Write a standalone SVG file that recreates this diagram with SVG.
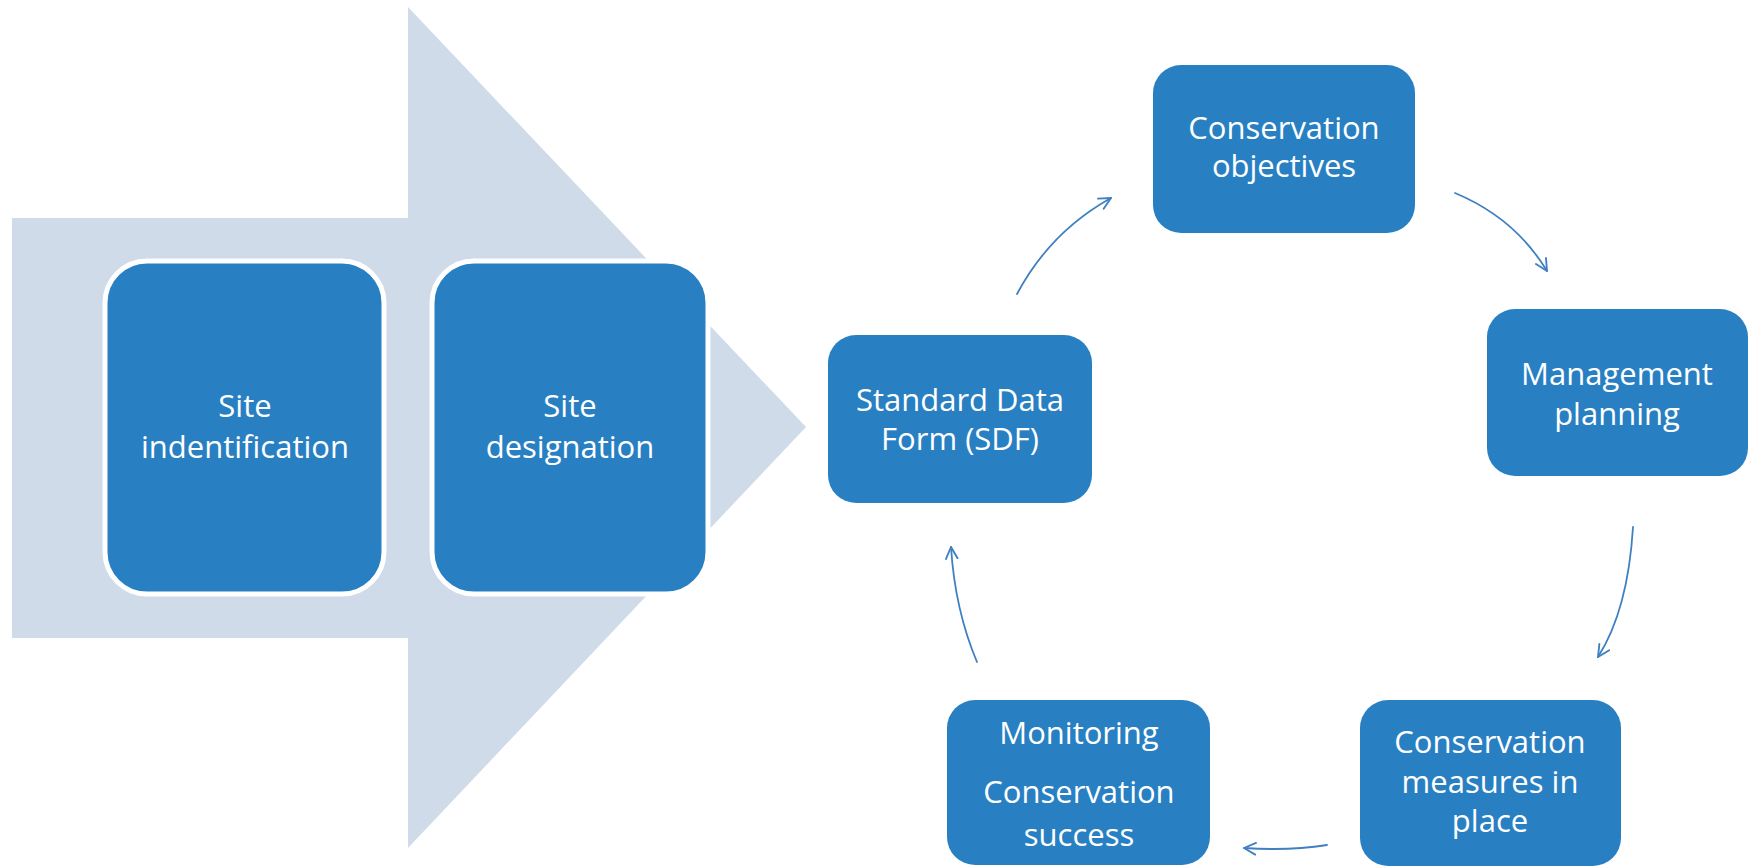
<svg xmlns="http://www.w3.org/2000/svg" width="1754" height="868" viewBox="0 0 1754 868">
  <defs>
    <style>
      .box { fill: #2880C3; }
      .big { fill: #2880C3; stroke: #FFFFFF; stroke-width: 5; }
      .lbl { font-family: "Open Sans", "Noto Sans", "Liberation Sans", sans-serif; font-size: 31px; fill: #FFFFFF; text-anchor: middle; }
      .conn { fill: none; stroke: #3F80C0; stroke-width: 1.8; stroke-linecap: round; marker-end: url(#head); }
    </style>
    <marker id="head" viewBox="0 0 12 12" refX="11" refY="6" markerWidth="14" markerHeight="14" markerUnits="userSpaceOnUse" orient="auto">
      <path d="M1,1 L11,6 L1,11" fill="none" stroke="#3F80C0" stroke-width="1.6" stroke-linecap="round" stroke-linejoin="round"/>
    </marker>
  </defs>

  <rect width="1754" height="868" fill="#FFFFFF"/>

  <!-- large background arrow -->
  <polygon id="process-arrow" points="12,218 408,218 408,7 806,427 408,848 408,638 12,638" fill="#CFDBE9"/>

  <g id="site-identification">
    <rect class="big" x="105" y="261" width="279" height="333" rx="42" ry="42"/>
    <text class="lbl" x="245" y="417">Site</text>
    <text class="lbl" x="245" y="458">indentification</text>
  </g>

  <g id="site-designation">
    <rect class="big" x="432" y="261" width="276" height="333" rx="42" ry="42"/>
    <text class="lbl" x="570" y="417">Site</text>
    <text class="lbl" x="570" y="458">designation</text>
  </g>

  <g id="sdf">
    <rect class="box" x="828" y="335" width="264" height="168" rx="28" ry="28"/>
    <text class="lbl" x="960" y="411">Standard Data</text>
    <text class="lbl" x="960" y="450">Form (SDF)</text>
  </g>

  <g id="conservation-objectives">
    <rect class="box" x="1153" y="65" width="262" height="168" rx="28" ry="28"/>
    <text class="lbl" x="1284" y="139">Conservation</text>
    <text class="lbl" x="1284" y="177">objectives</text>
  </g>

  <g id="management-planning">
    <rect class="box" x="1487" y="309" width="261" height="167" rx="28" ry="28"/>
    <text class="lbl" x="1617" y="385">Management</text>
    <text class="lbl" x="1617" y="425">planning</text>
  </g>

  <g id="conservation-measures">
    <rect class="box" x="1360" y="700" width="261" height="166" rx="28" ry="28"/>
    <text class="lbl" x="1490" y="753">Conservation</text>
    <text class="lbl" x="1490" y="793">measures in</text>
    <text class="lbl" x="1490" y="832">place</text>
  </g>

  <g id="monitoring">
    <rect class="box" x="947" y="700" width="263" height="165" rx="28" ry="28"/>
    <text class="lbl" x="1079" y="744">Monitoring</text>
    <text class="lbl" x="1079" y="803">Conservation</text>
    <text class="lbl" x="1079" y="846">success</text>
  </g>

  <g id="connectors">
    <path class="conn" d="M1017,294 Q1050,232 1111,198"/>
    <path class="conn" d="M1455,193 Q1515,218 1547,271"/>
    <path class="conn" d="M1633,527 Q1628,610 1598,657"/>
    <path class="conn" d="M1327,845 Q1290,851 1244,848"/>
    <path class="conn" d="M977,662 Q955,610 951,547"/>
  </g>
</svg>
